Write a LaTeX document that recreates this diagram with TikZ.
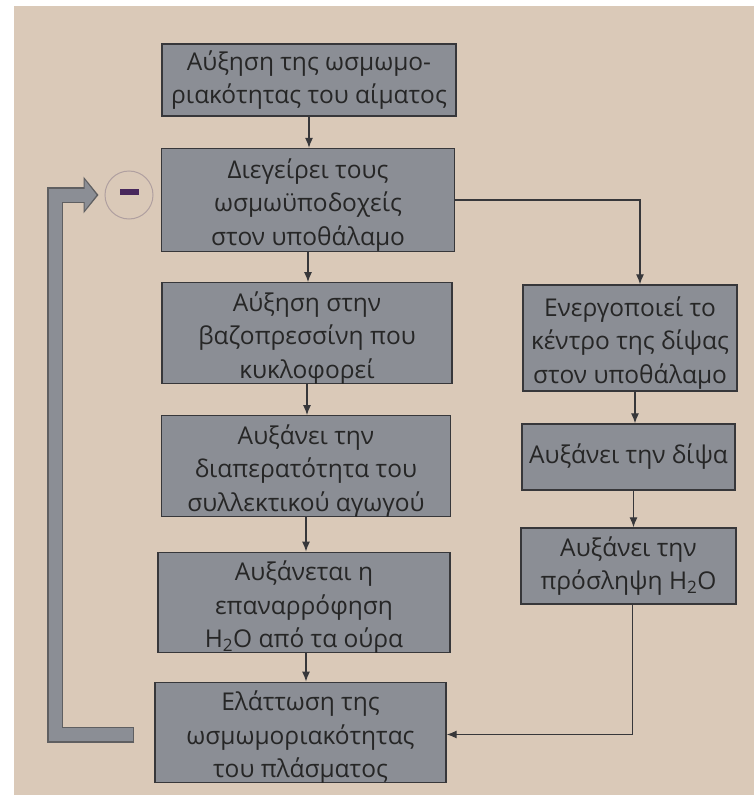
\documentclass[tikz,border=0pt]{standalone}
\usepackage{fontspec}
\setmainfont{Open Sans}
\usetikzlibrary{arrows,arrows.meta}
\definecolor{pagebg}{RGB}{218,201,184}
\definecolor{boxgray}{RGB}{139,142,149}
\definecolor{boxline}{RGB}{55,55,58}
\definecolor{minuscolor}{RGB}{72,40,92}
\definecolor{ringcolor}{RGB}{176,160,160}
\newcommand{\lowered}[1]{\raisebox{-5pt}[\height][\depth]{\begin{tabular}{@{}c@{}}#1\end{tabular}}}
\begin{document}
\begin{tikzpicture}[x=1pt,y=-1pt,>={Latex[length=10pt,width=8pt]},
  box/.style={draw=boxline,fill=boxgray,line width=1.4pt,align=center,inner sep=0pt,
    font=\fontsize{24.5}{33.5}\selectfont,text=black!85},
  flow/.style={->,draw=boxline,line width=1.1pt},
  fbouter/.style={draw=boxline!80,line width=16pt,-{Triangle[length=15pt,width=36pt]}},
  fbinner/.style={draw=boxgray,line width=13pt,shorten >=2pt,shorten <=1.5pt,-{Triangle[length=12pt,width=30pt]}}]
  \fill[white] (0,0) rectangle (754,795);
  \fill[pagebg] (14,6) rectangle (754,795);
  \node[box,minimum width=294,minimum height=72] (blood) at (309,80) {Αύξηση της ωσμωμο-\\ριακότητας του αίματος};
  \node[box,minimum width=293,minimum height=103] (osmo) at (308,200) {\lowered{Διεγείρει τους\\ωσμωϋποδοχείς\\στον υποθάλαμο}};
  \node[box,minimum width=290,minimum height=96] (vaso) at (307,333) {\lowered{Αύξηση στην\\βαζοπρεσσίνη που\\κυκλοφορεί}};
  \node[box,minimum width=289,minimum height=99] (perm) at (306,466) {\lowered{Αυξάνει την\\διαπερατότητα του\\συλλεκτικού αγωγού}};
  \node[box,minimum width=292,minimum height=99] (reab) at (304,602.5) {\lowered{Αυξάνεται η\\επαναρρόφηση\\H\textsubscript{2}O από τα ούρα}};
  \node[box,minimum width=291,minimum height=99] (plasma) at (300.5,732.5) {\lowered{Ελάττωση της\\ωσμωμοριακότητας\\του πλάσματος}};
  \node[box,minimum width=214,minimum height=106] (thirst) at (630,338) {\lowered{Ενεργοποιεί το\\κέντρο της δίψας\\στον υποθάλαμο}};
  \node[box,minimum width=213,minimum height=66] (drink) at (628.5,457) {Αυξάνει την δίψα};
  \node[box,minimum width=215,minimum height=76] (intake) at (628.5,566) {Αυξάνει την\\πρόσληψη H\textsubscript{2}O};
  \node[circle,draw=ringcolor,line width=1pt,minimum size=48,inner sep=0pt] (minus) at (129,195)
    {\textcolor{minuscolor}{\rule[6pt]{19pt}{6pt}}};
  \draw[flow] (blood.south) -- (blood.south |- osmo.north);
  \draw[flow] (osmo.south) -- (osmo.south |- vaso.north);
  \draw[flow] (vaso.south) -- (vaso.south |- perm.north);
  \draw[flow] (perm.south) -- (perm.south |- reab.north);
  \draw[flow] ([xshift=2pt]reab.south) -- ([xshift=2pt]reab.south |- plasma.north);
  \draw[flow] (osmo.east) -| ([xshift=10pt]thirst.north);
  \draw[flow] ([xshift=5pt]thirst.south) -- ([xshift=5pt]thirst.south |- drink.north);
  \draw[flow] ([xshift=5pt]drink.south) -- ([xshift=5pt]drink.south |- intake.north);
  \draw[flow] ([xshift=4pt]intake.south) |- ([yshift=-2pt]plasma.east);
  \draw[fbouter] ([shift={(-20pt,-2pt)}]plasma.west) -| (55,195) -- ([xshift=-6pt]minus.west);
  \draw[fbinner] ([shift={(-20pt,-2pt)}]plasma.west) -| (55,195) -- ([xshift=-6pt]minus.west);
\end{tikzpicture}
\end{document}
